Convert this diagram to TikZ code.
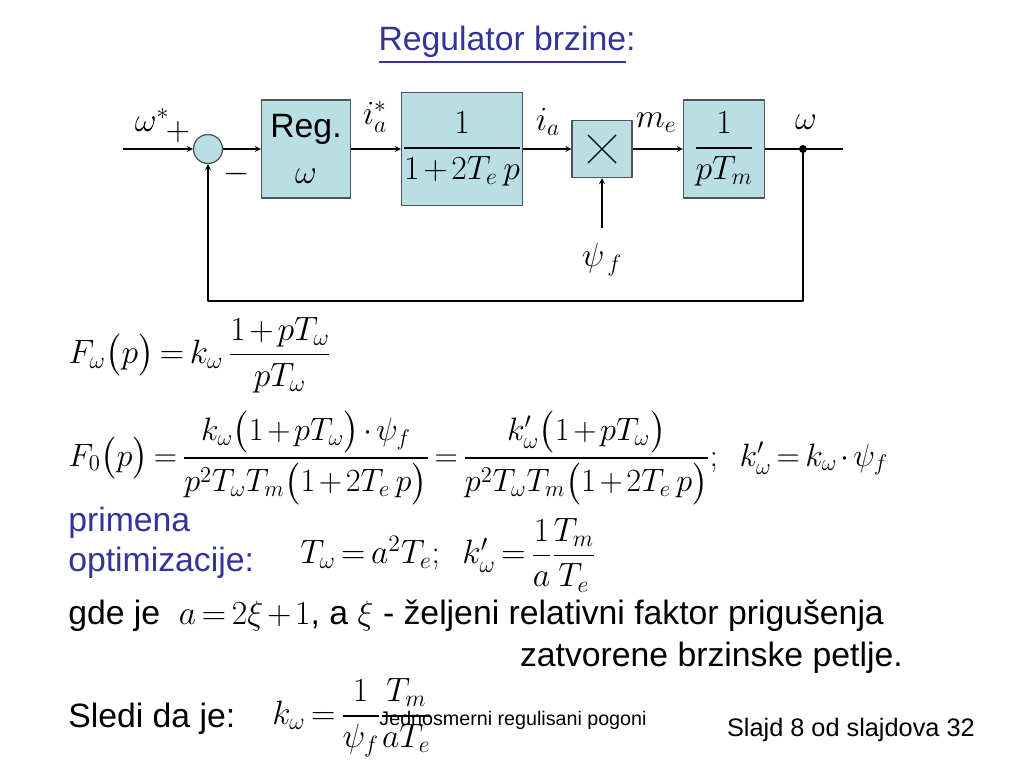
\documentclass[tikz,border=0pt]{standalone}
\usepackage{fix-cm}
\usepackage{amsmath}
\usepackage[no-math]{fontspec}
\setmainfont{Liberation Sans}
\usetikzlibrary{arrows}
\definecolor{blokfill}{RGB}{185,222,228}
\definecolor{blokrub}{RGB}{75,85,85}
\definecolor{plava}{RGB}{51,51,153}
\thickmuskip=3mu plus 2mu
\medmuskip=2mu plus 1mu
\begin{document}
\begin{tikzpicture}[x=0.025cm, y=-0.025cm, line join=round, >=stealth, font=\fontsize{24}{29}\selectfont]
			\tikzset{
				blok/.style={draw=blokrub, fill=blokfill, line width=0.9pt, inner sep=0pt},
				veza/.style={line width=0.9pt},
				oznaka/.style={inner sep=0pt},
				tekst/.style={inner sep=0pt},
				mali/.style={font=\fontsize{18}{22}\selectfont},
			}
			\useasboundingbox (0,0) rectangle (1024,768);
			% naslov
			\node[text=plava, tekst] (naslov) at (507,45) {\underline{Regulator brzine}:};
			% blokovi
			\node[blok, circle, minimum size=0.725cm] (sum) at (208,149) {};
			\node[blok, minimum width=2.225cm, minimum height=2.45cm, align=center] (reg) at (306,149) {Reg.\\[4pt]$\omega$};
			\node[blok, minimum width=3.025cm, minimum height=2.825cm] (struja) at (462,149) {$\dfrac{1}{1+2T_e\,p}$};
			\node[blok, minimum width=1.5cm, minimum height=1.425cm] (mnoz) at (602,149) {};
			\node[blok, minimum width=2.025cm, minimum height=2.45cm] (meh) at (724,149) {$\dfrac{1}{pT_m}$};
			\draw[veza] ([shift={(-14,-14)}]mnoz.center) -- ([shift={(14,14)}]mnoz.center);
			\draw[veza] ([shift={(-14,14)}]mnoz.center) -- ([shift={(14,-14)}]mnoz.center);
			\coordinate (ulaz) at (123,149);
			\coordinate (izlaz) at (843,149);
			\coordinate (tacka) at (803,149);
			\coordinate (povr) at (208,301);
			\coordinate (fluks) at (602,228);
			% veze
			\draw[veza,->] (ulaz) -- (sum);
			\draw[veza,->] (sum) -- (reg);
			\draw[veza,->] (reg) -- (struja);
			\draw[veza,->] (struja) -- (mnoz);
			\draw[veza,->] (mnoz) -- (meh);
			\draw[veza] (meh) -- (izlaz);
			\draw[veza,->] (tacka) |- (povr) -- (sum);
			\draw[veza,->] (fluks) -- (mnoz);
			\fill (tacka) circle (4);
			% oznake signala
			\node[oznaka] (wref) at (152,120) {$\omega^{*}$};
			\node[oznaka] (plus) at (178,132) {$+$};
			\node[oznaka] (minus) at (237,174) {$-$};
			\node[oznaka] (iaref) at (375,117) {$i_a^{*}$};
			\node[oznaka] (ia) at (548,122) {$i_a$};
			\node[oznaka] (me) at (656,123) {$m_e$};
			\node[oznaka] (w) at (806,122) {$\omega$};
			\node[oznaka] (psif) at (602,260) {$\psi_{\,f}$};
			% jednacine
			\node[anchor=west, tekst] (Fw) at (68,355) {$F_\omega\bigl(p\bigr)=k_\omega\,\dfrac{1+pT_\omega}{pT_\omega}$};
			\node[anchor=west, tekst, font=\fontsize{23}{28}\selectfont] (F0) at (68,458) {$F_0\bigl(p\bigr)=\dfrac{k_\omega\bigl(1+pT_\omega\bigr)\cdot\psi_f}{p^2T_\omega T_m\bigl(1+2T_e\,p\bigr)}=\dfrac{k'_\omega\bigl(1+pT_\omega\bigr)}{p^2T_\omega T_m\bigl(1+2T_e\,p\bigr)};\enspace k'_\omega=k_\omega\cdot\psi_f$};
			\node[anchor=base west, text=plava, tekst] (prim) at (68,531) {primena};
			\node[anchor=base west, text=plava, tekst] (opt) at (68,571) {optimizacije:};
			\node[anchor=west, tekst] (Tw) at (300,555) {$T_\omega=a^2T_e;\enspace k'_\omega=\dfrac{1}{a}\dfrac{T_m}{T_e}$};
			\node[anchor=base west, tekst] (gde) at (68,624) {gde je \ $a=2\xi+1$, a $\xi$ - željeni relativni faktor prigušenja};
			\node[anchor=base east, tekst] (zatv) at (903,666) {zatvorene brzinske petlje.};
			\node[anchor=base west, tekst] (sledi) at (68,727) {Sledi da je:};
			\node[anchor=west, tekst] (kw) at (272,718) {$k_\omega=\dfrac{1}{\psi_f}\dfrac{T_m}{aT_e}$};
			\node[anchor=base, tekst, font=\fontsize{14}{17}\selectfont] (pogoni) at (513,725) {Jednosmerni regulisani pogoni};
			\node[anchor=base east, tekst, mali] (slajd) at (975,736) {Slajd 8 od slajdova 32};
		\end{tikzpicture}
\end{document}
